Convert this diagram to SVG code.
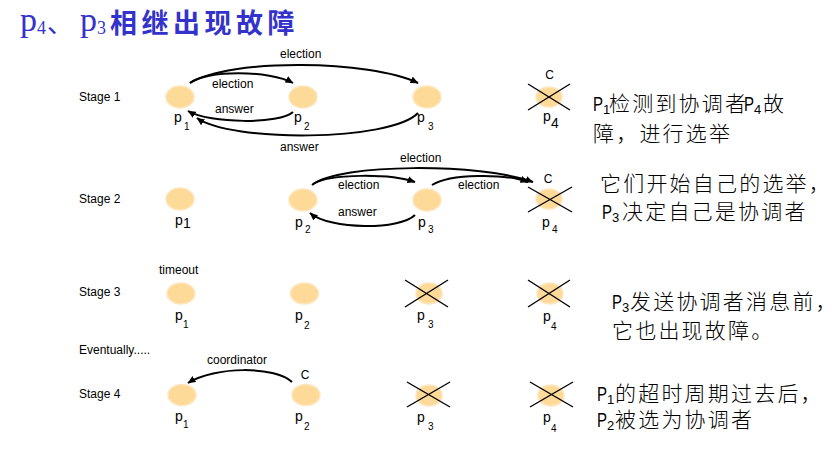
<svg xmlns="http://www.w3.org/2000/svg" width="832" height="451" viewBox="0 0 832 451">
<defs>
<style>
.node{fill:#FDDA98;stroke:#FDE6BE;stroke-width:1.5}
.lbl{font-family:"Liberation Sans",Arial,sans-serif;font-size:14px;fill:#000}
.sub{font-size:10px}
.t{font-family:"Liberation Sans",Arial,sans-serif;font-size:12px;fill:#000}
.x{stroke:#000;stroke-width:1.4;fill:none}
.edge{fill:none;stroke:#000;stroke-width:2;marker-end:url(#ah)}
.cn{font-family:"Noto Sans CJK SC",sans-serif;font-size:21px;font-weight:300;letter-spacing:2.2px;fill:#000}
.pn{font-family:"Liberation Sans",Arial,sans-serif;font-size:20px;fill:#000}
.ps{font-family:"Liberation Sans",Arial,sans-serif;font-size:13px;fill:#000}
.ti{fill:#3333CC}
</style>
<marker id="ah" markerUnits="userSpaceOnUse" markerWidth="9" markerHeight="8" refX="7.5" refY="3.5" orient="auto">
<path d="M0,0 L8,3.5 L0,7 z" fill="#000"/>
</marker>
</defs>
<rect width="832" height="451" fill="#fff"/>

<g id="title" class="ti">
<text x="20" y="31" font-family="Liberation Serif,serif" font-size="34">p</text>
<text x="37" y="34" font-family="Liberation Serif,serif" font-size="18">4</text>
<text x="47" y="33" font-family="Noto Sans CJK SC,sans-serif" font-size="26">、</text>
<text x="80" y="31" font-family="Liberation Serif,serif" font-size="34">p</text>
<text x="97" y="34" font-family="Liberation Serif,serif" font-size="18">3</text>
<text x="110" y="33" font-family="Noto Sans CJK SC,sans-serif" font-size="27" font-weight="700" letter-spacing="4.5">相继出现故障</text>
</g>

<g id="stage-labels">
<text class="t" x="79" y="101">Stage 1</text>
<text class="t" x="79" y="203">Stage 2</text>
<text class="t" x="79" y="296">Stage 3</text>
<text class="t" x="79" y="354">Eventually.....</text>
<text class="t" x="79" y="398">Stage 4</text>
</g>

<!-- Stage 1 nodes -->
<g id="s1-p1"><ellipse class="node" cx="180" cy="97" rx="14" ry="11"/><text class="lbl" x="174" y="122">p</text><text class="lbl sub" x="184" y="130">1</text></g>
<g id="s1-p2"><ellipse class="node" cx="303" cy="97" rx="14" ry="11"/><text class="lbl" x="294" y="122">p</text><text class="lbl sub" x="304" y="130">2</text></g>
<g id="s1-p3"><ellipse class="node" cx="427" cy="97" rx="14" ry="11"/><text class="lbl" x="417" y="122">p</text><text class="lbl sub" x="428" y="130">3</text></g>
<g id="s1-p4"><ellipse class="node" cx="549" cy="97" rx="13" ry="10"/><line class="x" x1="528" y1="84" x2="570" y2="110"/><line class="x" x1="528" y1="110" x2="570" y2="84"/><text class="t" x="549.5" y="79" text-anchor="middle" font-size="11">C</text><text class="lbl" x="543" y="121" font-size="11">p</text><text class="lbl" x="551" y="128" font-size="8">4</text></g>

<!-- Stage 2 nodes -->
<g id="s2-p1"><ellipse class="node" cx="180" cy="199" rx="14" ry="11"/><text class="lbl" x="175" y="225">p</text><text class="lbl" x="183" y="228" font-size="13">1</text></g>
<g id="s2-p2"><ellipse class="node" cx="303" cy="200" rx="14" ry="11"/><text class="lbl" x="295" y="227">p</text><text class="lbl sub" x="305" y="233">2</text></g>
<g id="s2-p3"><ellipse class="node" cx="427" cy="200" rx="14" ry="11"/><text class="lbl" x="418" y="227">p</text><text class="lbl sub" x="428" y="233">3</text></g>
<g id="s2-p4"><ellipse class="node" cx="549" cy="199" rx="13" ry="10"/><line class="x" x1="528" y1="187" x2="572" y2="212"/><line class="x" x1="528" y1="212" x2="572" y2="187"/><text class="t" x="548" y="183" text-anchor="middle">C</text><text class="lbl" x="542" y="227">p</text><text class="lbl sub" x="552" y="233">4</text></g>

<!-- Stage 3 nodes -->
<g id="s3-p1"><ellipse class="node" cx="181" cy="293.5" rx="14" ry="10.5"/><text class="lbl" x="175" y="320">p</text><text class="lbl sub" x="183" y="328">1</text></g>
<g id="s3-p2"><ellipse class="node" cx="304.5" cy="293.5" rx="14" ry="10.5"/><text class="lbl" x="295" y="320">p</text><text class="lbl sub" x="304" y="329">2</text></g>
<g id="s3-p3"><ellipse class="node" cx="429" cy="293.5" rx="13" ry="10.5"/><line class="x" x1="405" y1="280" x2="448" y2="307"/><line class="x" x1="405" y1="307" x2="448" y2="280"/><text class="lbl" x="417" y="320">p</text><text class="lbl sub" x="428" y="328">3</text></g>
<g id="s3-p4"><ellipse class="node" cx="550" cy="293.5" rx="13" ry="10.5"/><line class="x" x1="528" y1="280" x2="570" y2="307"/><line class="x" x1="528" y1="307" x2="570" y2="280"/><text class="lbl" x="543" y="321">p</text><text class="lbl sub" x="551" y="330">4</text></g>

<!-- Stage 4 nodes -->
<g id="s4-p1"><ellipse class="node" cx="182" cy="395" rx="14" ry="10.5"/><text class="lbl" x="175" y="421">p</text><text class="lbl sub" x="183" y="428">1</text></g>
<g id="s4-p2"><ellipse class="node" cx="306" cy="395" rx="14" ry="10.5"/><text class="t" x="305" y="379" text-anchor="middle">C</text><text class="lbl" x="295" y="421">p</text><text class="lbl sub" x="304" y="430">2</text></g>
<g id="s4-p3"><ellipse class="node" cx="429" cy="395.5" rx="13" ry="10.5"/><line class="x" x1="407" y1="382" x2="450" y2="407"/><line class="x" x1="407" y1="407" x2="450" y2="382"/><text class="lbl" x="417" y="422">p</text><text class="lbl sub" x="428" y="430">3</text></g>
<g id="s4-p4"><ellipse class="node" cx="551" cy="395.5" rx="13" ry="10.5"/><line class="x" x1="530" y1="382" x2="573" y2="407"/><line class="x" x1="530" y1="407" x2="573" y2="382"/><text class="lbl" x="543" y="422">p</text><text class="lbl sub" x="551" y="432">4</text></g>

<g id="connectors">
<path class="edge" d="M190,83 C230,58 370,60 418,83"/>
<path class="edge" d="M190,83 C205,70 270,70 293,83"/>
<path class="edge" d="M293,112 C280,124 210,124 188,111"/>
<path class="edge" d="M418,113 C390,142 230,142 197,118"/>
<path class="edge" d="M312,185 C340,163 480,163 533,182"/>
<path class="edge" d="M313,184 C330,173.5 390,173.5 415,182"/>
<path class="edge" d="M432,185 C450,173.5 505,173.5 528,182"/>
<path class="edge" d="M415,215 C400,230 330,230 310,213"/>
<path class="edge" d="M292,382 C275,366 215,366 188,383"/>
</g>

<g id="connector-labels">
<text class="t" x="280" y="58">election</text>
<text class="t" x="212" y="88">election</text>
<text class="t" x="215" y="113">answer</text>
<text class="t" x="280" y="151">answer</text>
<text class="t" x="400" y="162">election</text>
<text class="t" x="338" y="189">election</text>
<text class="t" x="458" y="189">election</text>
<text class="t" x="338" y="216">answer</text>
<text class="t" x="159" y="274">timeout</text>
<text class="t" x="207" y="364">coordinator</text>
</g>

<g id="notes">
<text class="pn" x="593" y="111" textLength="10" lengthAdjust="spacingAndGlyphs">P</text><text class="ps" x="603" y="114">1</text><text class="cn" x="609" y="111">检测到协调者</text><text class="pn" x="744" y="111" textLength="10" lengthAdjust="spacingAndGlyphs">P</text><text class="ps" x="754" y="114">4</text><text class="cn" x="763" y="111">故</text>
<text class="cn" x="593" y="141">障，进行选举</text>
<text class="cn" x="600" y="191">它们开始自己的选举，</text>
<text class="pn" x="602" y="219" textLength="10" lengthAdjust="spacingAndGlyphs">P</text><text class="ps" x="612" y="222">3</text><text class="cn" x="622" y="219">决定自己是协调者</text>
<text class="pn" x="612" y="309" textLength="10" lengthAdjust="spacingAndGlyphs">P</text><text class="ps" x="622" y="312">3</text><text class="cn" x="630" y="309">发送协调者消息前，</text>
<text class="cn" x="612" y="338">它也出现故障。</text>
<text class="pn" x="597" y="401" textLength="10" lengthAdjust="spacingAndGlyphs">P</text><text class="ps" x="607" y="404">1</text><text class="cn" x="615" y="401">的超时周期过去后，</text>
<text class="pn" x="597" y="427" textLength="10" lengthAdjust="spacingAndGlyphs">P</text><text class="ps" x="607" y="430">2</text><text class="cn" x="615" y="427">被选为协调者</text>
</g>
</svg>
